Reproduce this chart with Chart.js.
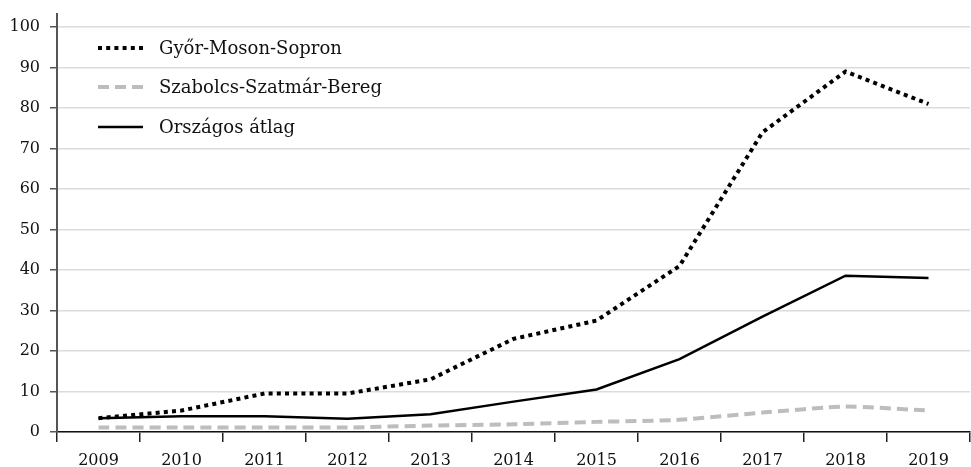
<!DOCTYPE html>
<html>
<head>
<meta charset="utf-8">
<script src="https://cdn.jsdelivr.net/npm/chart.js@4"></script>
<style>
  html, body { margin: 0; padding: 0; background: #fff; }
  #wrap { width: 971px; height: 467px; position: relative; }
</style>
</head>
<body>
<div id="wrap"><canvas id="c" width="971" height="467"></canvas></div>
<script>
const categories = ["2009","2010","2011","2012","2013","2014","2015","2016","2017","2018","2019"];
const gyorValues = [3.4, 5.3, 9.5, 9.5, 13, 23, 27.5, 41, 74, 89, 81];
const szabolcsValues = [1.1, 1.1, 1.1, 1.1, 1.6, 1.9, 2.5, 3.0, 4.8, 6.3, 5.3];
const orszagosValues = [3.4, 3.9, 3.9, 3.3, 4.4, 7.5, 10.5, 18, 28.5, 38.6, 38];
const yTicks = [0,10,20,30,40,50,60,70,80,90,100];
const seriesNames = ["Győr-Moson-Sopron", "Szabolcs-Szatmár-Bereg", "Országos átlag"];

const FONT = "'DejaVu Serif', serif";

const legendPlugin = {
  id: 'innerLegend',
  afterDraw(chart) {
    const ctx = chart.ctx;
    const rows = [48, 87, 127];
    ctx.save();
    chart.data.datasets.forEach((ds, i) => {
      const y = rows[i];
      ctx.beginPath();
      ctx.setLineDash(ds.borderDash || []);
      ctx.lineWidth = ds.borderWidth;
      ctx.strokeStyle = ds.borderColor;
      ctx.lineCap = 'butt';
      ctx.moveTo(98, y);
      ctx.lineTo(143, y);
      ctx.stroke();
      ctx.setLineDash([]);
      ctx.fillStyle = '#111';
      ctx.font = "18px " + FONT;
      ctx.textBaseline = 'middle';
      ctx.textAlign = 'left';
      ctx.fillText(ds.label, 159, y + 1);
    });
    const x = chart.scales.y.right;
    ctx.beginPath();
    ctx.strokeStyle = '#555';
    ctx.lineWidth = 2;
    ctx.moveTo(x, 13);
    ctx.lineTo(x, chart.chartArea.bottom);
    ctx.stroke();
    ctx.restore();
  }
};

new Chart(document.getElementById('c'), {
  type: 'line',
  data: {
    labels: categories,
    datasets: [
      { label: seriesNames[0], data: gyorValues, borderColor: '#000', borderWidth: 4,
        borderDash: [4, 4.2], pointRadius: 0, tension: 0, fill: false },
      { label: seriesNames[1], data: szabolcsValues, borderColor: '#bdbdbd', borderWidth: 4,
        borderDash: [11, 6], pointRadius: 0, tension: 0.15, fill: false },
      { label: seriesNames[2], data: orszagosValues, borderColor: '#000', borderWidth: 2.5,
        pointRadius: 0, tension: 0, fill: false }
    ]
  },
  options: {
    responsive: false,
    animation: false,
    layout: { padding: { top: 27, right: 1, left: 0, bottom: 0 } },
    plugins: { legend: { display: false }, tooltip: { enabled: false } },
    scales: {
      x: {
        offset: true,
        grid: { drawOnChartArea: false, drawTicks: true, tickLength: 10, tickColor: '#222', lineWidth: 1.5, offset: true },
        border: { display: true, color: '#111', width: 1.5 },
        ticks: { color: '#111', font: { family: FONT, size: 16 }, padding: 9, maxRotation: 0, autoSkip: false },
        afterFit(s) { s.height = 35; }
      },
      y: {
        min: 0, max: 100,
        afterBuildTicks(s) { s.ticks = yTicks.map(v => ({ value: v })); },
        grid: { color: '#dcdcdc', lineWidth: 1.5, tickLength: 7, tickColor: '#555', drawTicks: true },
        border: { display: false },
        ticks: { color: '#111', font: { family: FONT, size: 16 }, padding: 10 },
        afterFit(s) { s.width = 57; }
      }
    }
  },
  plugins: [legendPlugin]
});
</script>
</body>
</html>
